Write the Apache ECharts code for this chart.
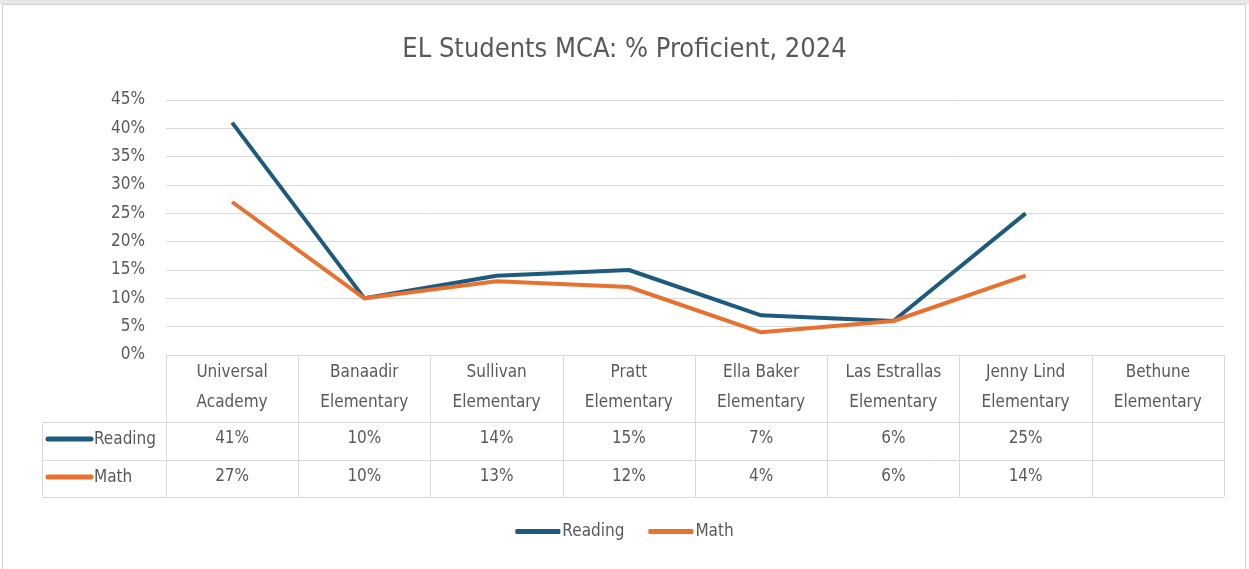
<!DOCTYPE html>
<html>
<head>
<meta charset="utf-8">
<script src="https://cdn.jsdelivr.net/npm/echarts@6/dist/echarts.min.js"></script>
<style>
html,body{margin:0;padding:0;background:#fff;}
#chart{width:1249px;height:569px;}
</style>
</head>
<body>
<div id="chart"></div>
<script>
const categories = ['Universal Academy','Banaadir Elementary','Sullivan Elementary','Pratt Elementary','Ella Baker Elementary','Las Estrallas Elementary','Jenny Lind Elementary','Bethune Elementary'];
const reading = [41, 10, 14, 15, 7, 6, 25, null];
const math = [27, 10, 13, 12, 4, 6, 14, null];
const yTicks = [0, 45, 5]; // min, max, interval

const FONT = '"Liberation Sans Narrow", "Arial Narrow", "DejaVu Sans Condensed", sans-serif';
const TXT = '#595959';
const GRID_C = '#d9d9d9';
const C_READ = '#1c5b7d';
const C_MATH = '#e9712f';

const W = 1249, H = 569;
const G = {left:166, right:25, top:100, bottom:214};
const plotBottom = H - G.bottom;      // 355
const rowTop1 = 422, rowTop2 = 460, tableBottom = 497, tableLeft = 42;
const plotRight = W - G.right;

function splitName(n){ const i = n.lastIndexOf(' '); return n.slice(0,i) + '\n' + n.slice(i+1); }
function pct(v){ return v == null ? '' : v + '%'; }

const chart = echarts.init(document.getElementById('chart'), null, {renderer:'canvas'});

const lineSeg = (x1,y1,x2,y2) => ({type:'line', shape:{x1,y1,x2,y2}, style:{stroke:GRID_C, lineWidth:1}, silent:true});

const graphics = [
  {type:'rect', shape:{x:0,y:0,width:1249,height:4}, style:{fill:'#e6e6e6'}, silent:true},
  {type:'rect', shape:{x:2.5,y:4.5,width:1243,height:600}, style:{fill:'none', stroke:'#d0d0d0', lineWidth:1}, silent:true},
  lineSeg(tableLeft, rowTop1+0.5, plotRight, rowTop1+0.5),
  lineSeg(tableLeft, rowTop2+0.5, plotRight, rowTop2+0.5),
  lineSeg(tableLeft, tableBottom+0.5, plotRight, tableBottom+0.5),
  lineSeg(tableLeft+0.5, rowTop1, tableLeft+0.5, tableBottom),
  lineSeg(G.left+0.5, plotBottom, G.left+0.5, tableBottom),
  // legend keys in table
  {type:'line', shape:{x1:48,y1:439,x2:91,y2:439}, style:{stroke:C_READ, lineWidth:5, lineCap:'round'}, silent:true},
  {type:'line', shape:{x1:48,y1:477,x2:91,y2:477}, style:{stroke:C_MATH, lineWidth:5, lineCap:'round'}, silent:true},
  {type:'text', x:94, y:440, style:{text:'Reading', fill:TXT, font:'17px ' + FONT, textVerticalAlign:'middle'}, silent:true},
  {type:'text', x:94, y:478, style:{text:'Math', fill:TXT, font:'17px ' + FONT, textVerticalAlign:'middle'}, silent:true}
];

const option = {
  animation:false,
  backgroundColor:'#fff',
  title:{
    text:'EL Students MCA: % Proficient, 2024',
    left:'center', top:31,
    textStyle:{fontFamily:FONT, fontSize:27, fontWeight:'normal', color:TXT}
  },
  legend:{
    bottom:24, left:'center',
    itemWidth:45, itemHeight:5, itemGap:24,
    icon:'roundRect',
    textStyle:{fontFamily:FONT, fontSize:17, color:TXT, padding:[0,0,0,-3]},
    data:['Reading','Math']
  },
  grid:{left:G.left, right:G.right, top:G.top, bottom:G.bottom, containLabel:false},
  xAxis:[
    {type:'category', data:categories, boundaryGap:true,
     axisLine:{show:true, lineStyle:{color:GRID_C, width:1}},
     axisTick:{show:true, length:tableBottom-plotBottom, lineStyle:{color:GRID_C}},
     axisLabel:{formatter:splitName, fontFamily:FONT, fontSize:17, color:TXT, lineHeight:30, margin:3, interval:0}
    },
    {type:'category', data:categories, position:'bottom', offset:rowTop1-plotBottom,
     axisLine:{show:false}, axisTick:{show:false},
     axisLabel:{formatter:(v,i)=>pct(reading[i]), fontFamily:FONT, fontSize:17, color:TXT, lineHeight:20, margin:7, interval:0}
    },
    {type:'category', data:categories, position:'bottom', offset:rowTop2-plotBottom,
     axisLine:{show:false}, axisTick:{show:false},
     axisLabel:{formatter:(v,i)=>pct(math[i]), fontFamily:FONT, fontSize:17, color:TXT, lineHeight:20, margin:7, interval:0}
    }
  ],
  yAxis:{
    type:'value', min:yTicks[0], max:yTicks[1], interval:yTicks[2],
    axisLine:{show:false}, axisTick:{show:false},
    splitLine:{lineStyle:{color:GRID_C, width:1}},
    axisLabel:{formatter:'{value}%', fontFamily:FONT, fontSize:17, color:TXT, margin:21}
  },
  series:[
    {name:'Reading', type:'line', data:reading, xAxisIndex:0, symbol:'none', color:C_READ,
     lineStyle:{width:4, color:C_READ, join:'round'}, connectNulls:false},
    {name:'Math', type:'line', data:math, xAxisIndex:0, symbol:'none', color:C_MATH,
     lineStyle:{width:4, color:C_MATH, join:'round'}, connectNulls:false}
  ],
  graphic:graphics
};
chart.setOption(option);
</script>
</body>
</html>
